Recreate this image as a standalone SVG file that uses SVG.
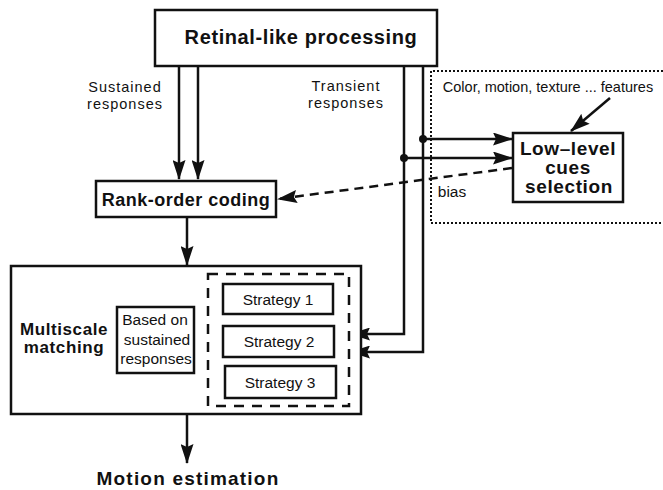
<svg xmlns="http://www.w3.org/2000/svg" width="663" height="490" viewBox="0 0 663 490">
<style>
.box{fill:#fff;stroke:#111;stroke-width:2.5}
.ln{fill:none;stroke:#111;stroke-width:2.5}
.b{font-family:"Liberation Sans",Arial,sans-serif;font-weight:bold;fill:#111;text-anchor:middle}
.r{font-family:"Liberation Sans",Arial,sans-serif;fill:#111;text-anchor:middle}
</style>
<defs>
<marker id="ah" markerUnits="userSpaceOnUse" markerWidth="20" markerHeight="13" refX="19" refY="6.5" orient="auto">
<path d="M0,0 L20,6.5 L0,13 L3,6.5 z" fill="#111"/>
</marker>
</defs>
<rect width="663" height="490" fill="#fff"/>
<g id="connectors">
<line class="ln" x1="179" y1="66" x2="179" y2="179" marker-end="url(#ah)"/>
<line class="ln" x1="198" y1="66" x2="198" y2="179" marker-end="url(#ah)"/>
<line class="ln" x1="187" y1="217" x2="187" y2="265" marker-end="url(#ah)"/>
<line class="ln" x1="187" y1="414" x2="187" y2="463" marker-end="url(#ah)"/>
<polyline class="ln" points="404,66 404,334 351,334" marker-end="url(#ah)"/>
<polyline class="ln" points="423,66 423,352 351,352" marker-end="url(#ah)"/>
<line class="ln" x1="423" y1="139" x2="512" y2="139" marker-end="url(#ah)"/>
<line class="ln" x1="404" y1="158" x2="512" y2="158" marker-end="url(#ah)"/>
<circle cx="423" cy="139" r="4" fill="#111"/>
<circle cx="404" cy="158" r="4" fill="#111"/>
<line class="ln" x1="512" y1="168" x2="278" y2="199" stroke-dasharray="9,6" marker-end="url(#ah)"/>
<line class="ln" x1="610" y1="98" x2="571" y2="131" marker-end="url(#ah)"/>
</g>
<g id="region-features">
<path d="M663,71 L431,71 L431,223 L663,223" fill="none" stroke="#111" stroke-width="2" stroke-dasharray="2,2"/>
<text class="r" x="548" y="92" font-size="14.5">Color, motion, texture ... features</text>
<text class="r" x="452" y="197" font-size="15.5">bias</text>
</g>
<g id="retinal">
<rect class="box" x="155" y="10" width="282" height="56"/>
<text class="b" x="301" y="44" font-size="20" letter-spacing="0.6">Retinal-like processing</text>
</g>
<g id="labels">
<text class="r" x="125" y="92" font-size="14.5" letter-spacing="1">Sustained</text>
<text class="r" x="125" y="109" font-size="14.5" letter-spacing="1">responses</text>
<text class="r" x="346" y="91" font-size="14.5" letter-spacing="1">Transient</text>
<text class="r" x="346" y="108" font-size="14.5" letter-spacing="1">responses</text>
</g>
<g id="rank">
<rect class="box" x="96" y="181" width="180" height="36"/>
<text class="b" x="186" y="206" font-size="18" letter-spacing="0.5">Rank-order coding</text>
</g>
<g id="lowlevel">
<rect class="box" x="513" y="133" width="110" height="69"/>
<text class="b" x="568" y="155" font-size="19" letter-spacing="0.6">Low–level</text>
<text class="b" x="568" y="174" font-size="19" letter-spacing="0.6">cues</text>
<text class="b" x="569" y="193" font-size="19" letter-spacing="0.6">selection</text>
</g>
<g id="multiscale">
<rect class="box" x="11" y="266" width="350" height="148"/>
<text class="b" x="64" y="335" font-size="17" letter-spacing="0.6">Multiscale</text>
<text class="b" x="64" y="353" font-size="17" letter-spacing="0.6">matching</text>
</g>
<g id="based">
<rect class="box" x="117" y="307" width="77" height="66"/>
<text class="r" x="155" y="325" font-size="15.5">Based on</text>
<text class="r" x="157" y="345" font-size="15.5">sustained</text>
<text class="r" x="156" y="364" font-size="15.5">responses</text>
</g>
<g id="strategies">
<rect x="208" y="274" width="141" height="132" fill="none" stroke="#111" stroke-width="2.5" stroke-dasharray="10,8"/>
</g>
<g id="strategy1">
<rect class="box" x="223" y="284" width="110" height="30"/>
<text class="r" x="278" y="305" font-size="15.5">Strategy 1</text>
</g>
<g id="strategy2">
<rect class="box" x="223" y="326" width="111" height="31"/>
<text class="r" x="279" y="347" font-size="15.5">Strategy 2</text>
</g>
<g id="strategy3">
<rect class="box" x="225" y="366" width="111" height="32"/>
<text class="r" x="280" y="388" font-size="15.5">Strategy 3</text>
</g>
<g id="motion">
<text class="b" x="188" y="485" font-size="19" letter-spacing="1.2">Motion estimation</text>
</g>
</svg>
